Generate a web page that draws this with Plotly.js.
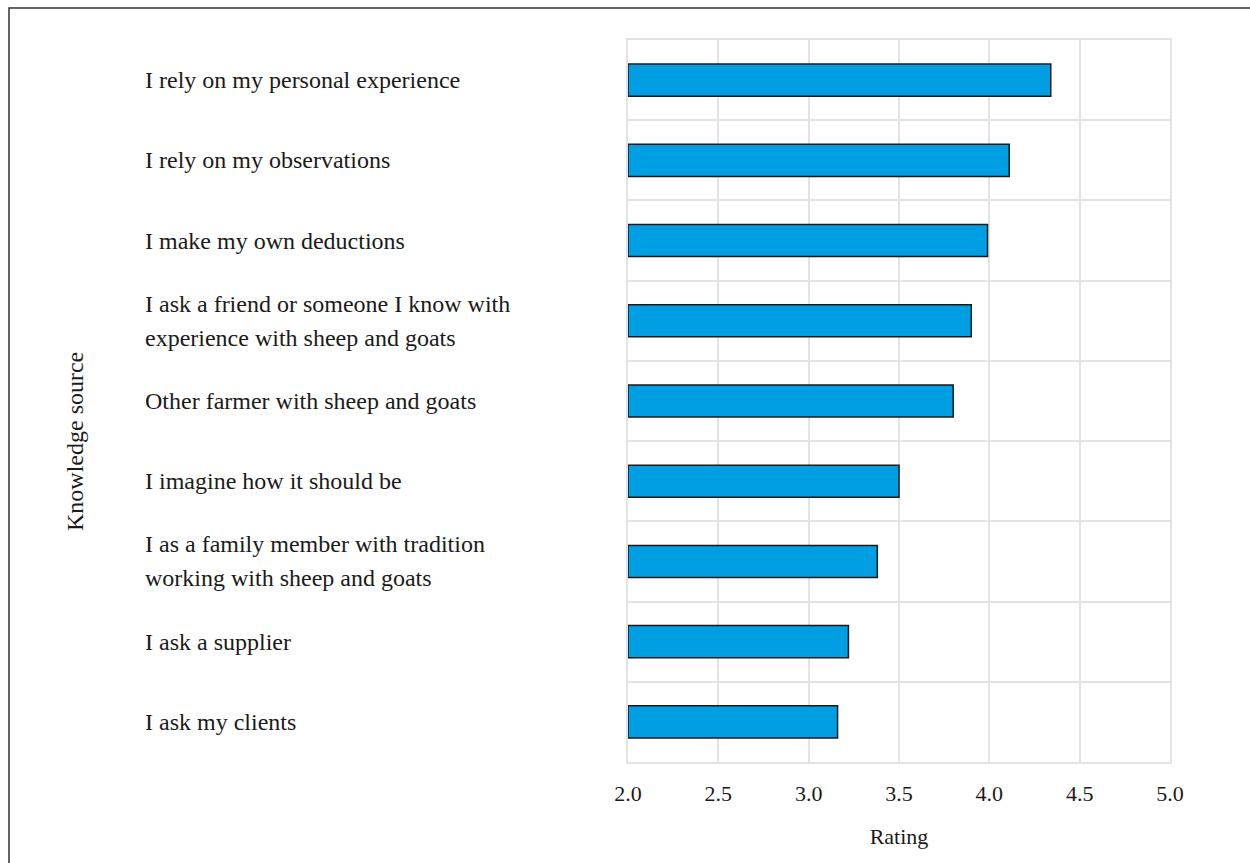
<!DOCTYPE html>
<html>
<head>
<meta charset="utf-8">
<script src="https://cdn.plot.ly/plotly-3.0.1.min.js"></script>
<style>html,body{margin:0;padding:0;background:#fff;}#chart{width:1250px;height:863px;}</style>
</head>
<body>
<div id="chart"></div>
<script>
// Data (top to bottom)
const categories = [
  "I rely on my personal experience",
  "I rely on my observations",
  "I make my own deductions",
  "I ask a friend or someone I know with<br>experience with sheep and goats",
  "Other farmer with sheep and goats",
  "I imagine how it should be",
  "I as a family member with tradition<br>working with sheep and goats",
  "I ask a supplier",
  "I ask my clients"
];
const ratings = [4.34, 4.11, 3.99, 3.90, 3.80, 3.50, 3.38, 3.22, 3.16];
const xTickVals = [2.0, 2.5, 3.0, 3.5, 4.0, 4.5, 5.0];
const xTickText = ["2.0", "2.5", "3.0", "3.5", "4.0", "4.5", "5.0"];
const axisBase = 2.0;

const FONT = "'Liberation Serif', 'DejaVu Serif', serif";
const TXT = "#1a1a1a";
const GRID = "#e3e3e3";

const idx = categories.map((c, i) => i);

const trace = {
  type: "bar",
  orientation: "h",
  y: idx,
  x: ratings.map(v => v - axisBase),
  base: axisBase,
  width: 0.4,
  marker: { color: "#009fe3", line: { color: "#1a1a1a", width: 1.5 } },
  hoverinfo: "skip"
};

// Left-aligned category labels as annotations
const labelX = (143 - 628) / 542;
const annotations = [];
categories.forEach((c, i) => {
  const lines = c.split("<br>");
  const n = lines.length;
  const lh = 34;
  lines.forEach((ln, k) => {
    annotations.push({
      xref: "paper", yref: "y", x: labelX, y: i,
      xanchor: "left", yanchor: "middle",
      text: ln, showarrow: false, align: "left",
      yshift: ((n - 1) / 2 - k) * lh,
      font: { family: FONT, size: 24, color: TXT }
    });
  });
});
annotations.push({
  xref: "paper", yref: "paper", x: (75 - 628) / 542, y: (762 - 442) / 722,
  xanchor: "center", yanchor: "middle", textangle: -90,
  text: "Knowledge source", showarrow: false,
  font: { family: FONT, size: 24, color: TXT }
});

const layout = {
  width: 1250, height: 863,
  margin: { l: 628, r: 80, t: 40, b: 101 },
  paper_bgcolor: "#fff", plot_bgcolor: "#fff",
  showlegend: false,
  font: { family: FONT, color: TXT },
  xaxis: {
    range: [2, 5], tickvals: xTickVals, ticktext: xTickText,
    showgrid: true, gridcolor: GRID, gridwidth: 2,
    showline: true, linecolor: GRID, linewidth: 2, mirror: true,
    zeroline: false, ticks: "", ticklen: 0, ticklabelstandoff: 11,
    tickfont: { family: FONT, size: 22, color: TXT },
    title: { text: "Rating", font: { family: FONT, size: 22, color: TXT }, standoff: 23 }
  },
  yaxis: {
    range: [categories.length - 0.5, -0.5],
    showticklabels: false, showgrid: false, zeroline: false,
    showline: true, linecolor: GRID, linewidth: 2, mirror: true,
    ticks: "",
    minor: { tickmode: "linear", tick0: 0.5, dtick: 1, showgrid: true, gridcolor: GRID, gridwidth: 2, ticks: "" }
  },
  annotations: annotations,
  shapes: [{
    type: "rect", xref: "paper", yref: "paper",
    x0: (9 - 628) / 542, x1: (1260 - 628) / 542,
    y0: (762 - 8) / 722, y1: (762 - 880) / 722,
    line: { color: "#333", width: 1.5 }, fillcolor: "rgba(0,0,0,0)", layer: "below"
  }]
};

Plotly.newPlot("chart", [trace], layout, { displayModeBar: false, staticPlot: true });
</script>
</body>
</html>
